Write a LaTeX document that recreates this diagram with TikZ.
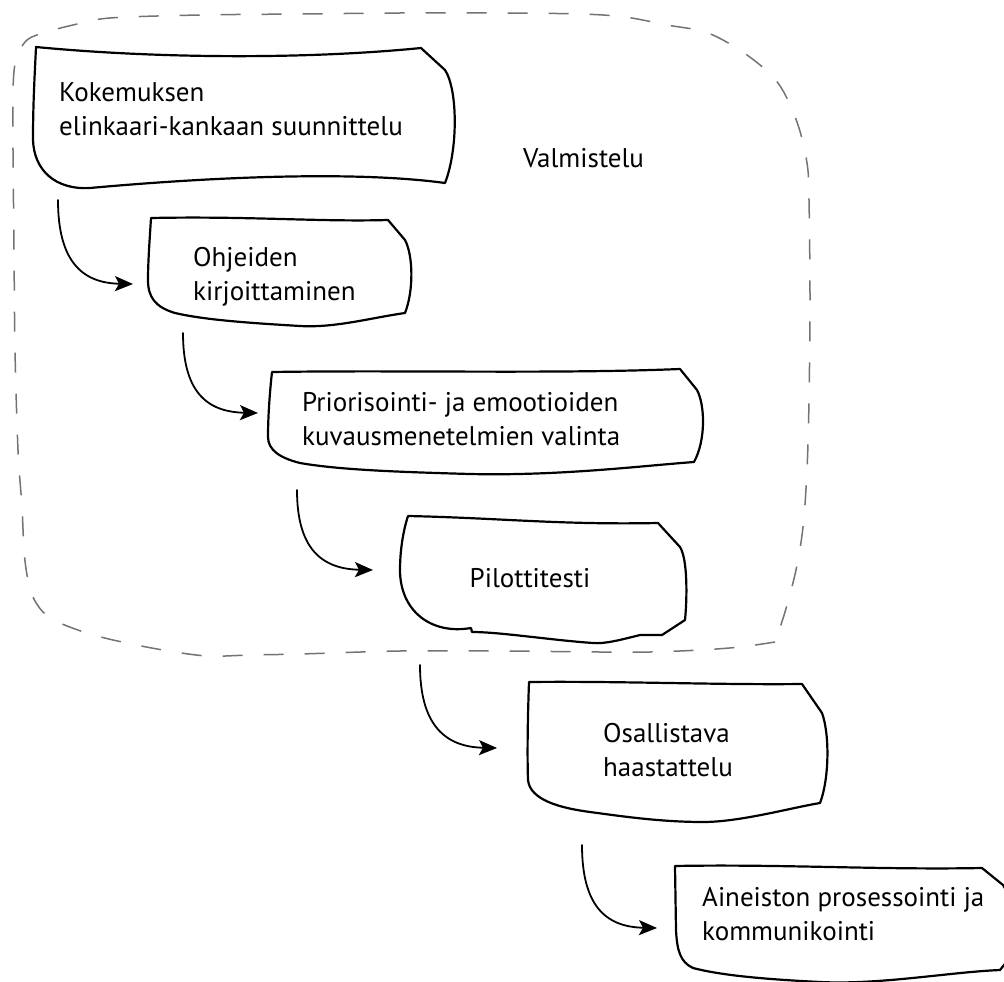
\documentclass[tikz,border=0pt]{standalone}
\usepackage{fontspec}
\setmainfont{PT Sans}
\usetikzlibrary{arrows.meta}

\tikzset{
  sketch/.style={draw=black, line width=2.2pt, line join=round, line cap=round},
  frame/.style={draw=black!55, line width=1.5pt, dash pattern=on 20pt off 21pt},
  flow/.style={draw=black, line width=1.8pt, line cap=round,
    -{Stealth[length=18pt, width=15pt, inset=4pt]}},
  boxtext/.style={anchor=base west, align=left, inner sep=0pt,
    font=\fontsize{27}{34}\selectfont},
}

\begin{document}
\begin{tikzpicture}[x=1pt, y=-1pt]
\useasboundingbox (0,0) rectangle (1004,982);

% dashed frame around the preparation phase
\draw[frame] plot[smooth, tension=0.55] coordinates {
  (775,642) (740,647) (700,650) (650,652) (600,652) (500,651) (400,651)
  (300,654) (250,655) (207,656) (163,650) (122,642) (90,634) (60,623)
  (43,612) (32,595) (27,575) (24,550) (22,507) (18,450) (15,350) (14,250)
  (13,150) (13,90) (16,60) (27,40) (47,32) (73,25) (110,18) (200,15)
  (300,14) (400,13) (500,13) (580,14) (625,17) (667,25) (708,33) (747,55)
  (778,83) (797,122) (807,163) (809,200) (810,300) (809,400) (807,470)
  (803,527) (796,570) (785,612) (775,642)};
\node[boxtext] (valmistelu) at (523,167) {Valmistelu};

% hand-drawn boxes
\draw[sketch] (36,47) .. controls (150,58) and (300,60) .. (421,48)
  -- (445,70) .. controls (458,90) and (458,150) .. (445,183)
  .. controls (350,170) and (200,178) .. (90,188)
  .. controls (55,190) and (34,170) .. (33,140)
  .. controls (33,100) and (35,70) .. (36,47) -- cycle;
\node[boxtext] (kokemus) at (59,135) {Kokemuksen\\elinkaari-kankaan suunnittelu};

\draw[sketch] (151,218) .. controls (250,216) and (320,222) .. (388,220)
  -- (405,240) .. controls (413,255) and (414,290) .. (405,313)
  .. controls (370,318) and (335,328) .. (300,326)
  .. controls (250,323) and (205,320) .. (175,313)
  .. controls (155,307) and (148,297) .. (148,280)
  .. controls (148,260) and (150,235) .. (151,218) -- cycle;
\node[boxtext] (ohjeet) at (193,300) {Ohjeiden\\kirjoittaminen};

\draw[sketch] (272,372) .. controls (400,370) and (560,374) .. (680,369)
  -- (697,390) .. controls (705,405) and (706,440) .. (694,462)
  .. controls (640,466) and (560,476) .. (470,474)
  .. controls (400,472) and (340,470) .. (300,463)
  .. controls (280,458) and (268,450) .. (268,437)
  .. controls (268,415) and (270,390) .. (272,372) -- cycle;
\node[boxtext] (valinta) at (302,445) {Priorisointi- ja emootioiden\\kuvausmenetelmien valinta};

\draw[sketch] (408,516) .. controls (500,518) and (560,525) .. (658,523)
  -- (680,547) .. controls (688,560) and (687,600) .. (685,620)
  -- (662,635) -- (640,635)
  .. controls (620,640) and (605,644) .. (593,643)
  .. controls (550,640) and (500,632) .. (472,632)
  -- (471,628)
  .. controls (430,635) and (400,610) .. (400,570)
  .. controls (400,545) and (405,525) .. (408,516) -- cycle;
\node[anchor=base, inner sep=0pt, font=\fontsize{27}{34}\selectfont] (pilotti) at (530,587) {Pilottitesti};

\draw[sketch] (529,682) .. controls (620,681) and (720,685) .. (802,684)
  -- (822,713) .. controls (830,735) and (829,780) .. (820,803)
  .. controls (790,808) and (740,822) .. (703,822)
  .. controls (660,822) and (620,816) .. (590,812)
  .. controls (560,808) and (530,800) .. (528,780)
  .. controls (527,750) and (528,710) .. (529,682) -- cycle;
\node[boxtext] (haastattelu) at (603,776) {Osallistava\\haastattelu};

\draw[sketch] (675,866) .. controls (780,864) and (880,870) .. (982,868)
  -- (1003,885) -- (1012,900) -- (1012,955) -- (1000,970)
  .. controls (950,972) and (880,985) .. (820,982)
  .. controls (760,979) and (720,975) .. (693,968)
  .. controls (680,962) and (677,950) .. (676,930)
  -- (675,866) -- cycle;
\node[boxtext] (aineisto) at (702,940) {Aineiston prosessointi ja\\kommunikointi};

% connector end points
\coordinate (kokemus-out) at (58,200);
\coordinate (ohjeet-in) at (133,284);
\coordinate (ohjeet-out) at (183,333);
\coordinate (valinta-in) at (258,413);
\coordinate (valinta-out) at (297,490);
\coordinate (pilotti-in) at (373,570);
\coordinate (pilotti-out) at (420,665);
\coordinate (haastattelu-in) at (497,748);
\coordinate (haastattelu-out) at (582,845);
\coordinate (aineisto-in) at (657,928);

% connectors between the phases
\draw[flow] (kokemus-out) .. controls +(0,60) and +(-52,-1) .. (ohjeet-in);
\draw[flow] (ohjeet-out) .. controls +(0,58) and +(-52,-1) .. (valinta-in);
\draw[flow] (valinta-out) .. controls +(0,58) and +(-52,-1) .. (pilotti-in);
\draw[flow] (pilotti-out) .. controls +(0,60) and +(-52,-1) .. (haastattelu-in);
\draw[flow] (haastattelu-out) .. controls +(0,60) and +(-52,-1) .. (aineisto-in);
\end{tikzpicture}
\end{document}
